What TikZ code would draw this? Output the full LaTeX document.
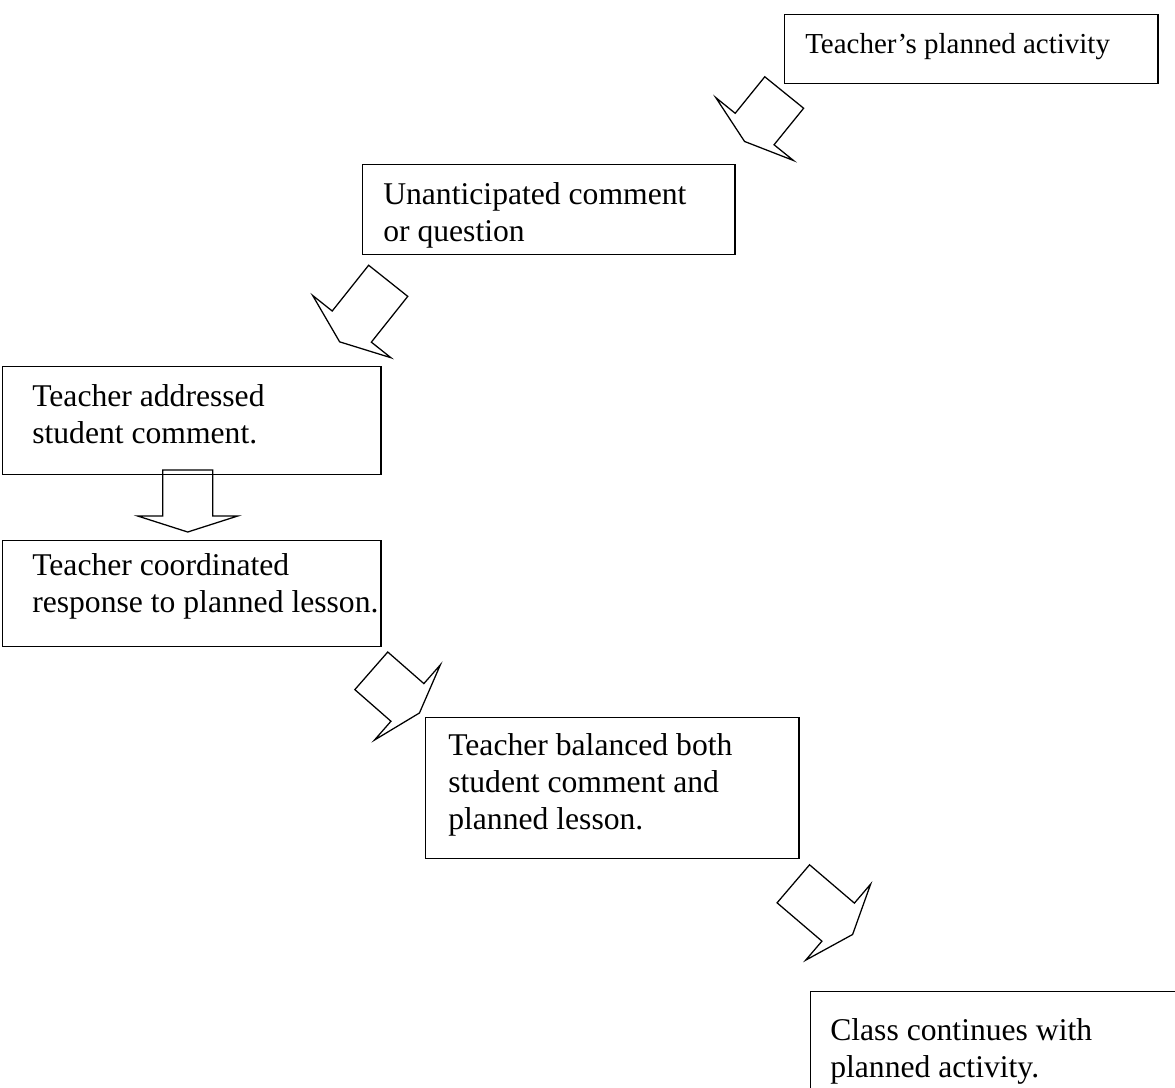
\documentclass[tikz,border=0pt]{standalone}
\usepackage{fontspec}
\setmainfont{Liberation Serif}
\tikzset{
  box/.style={draw, rectangle, line width=1pt, anchor=north west, inner sep=0pt},
  boxtext/.style={anchor=base west, align=left, inner sep=0pt, font=\fontsize{22.5}{26.3}\selectfont},
  arrowline/.style={line width=0.9pt, line join=miter},
  pics/blockarrow/.style 2 args={code={
    \draw[arrowline] (-25,0) -- (25,0) -- (25,#1) -- (50,#1) -- (0,{#1+#2}) -- (-50,#1) -- (-25,#1) -- cycle;
  }},
}
\begin{document}
\begin{tikzpicture}[x=0.025cm, y=-0.025cm]
    \useasboundingbox (0,0) rectangle (1175,1087);

    % 方框
    \node[box, minimum width=9.325cm, minimum height=1.725cm] (planned) at (784,14) {};
    \node[box, minimum width=9.3cm, minimum height=2.25cm] (unanticipated) at (362,164) {};
    \node[box, minimum width=9.45cm, minimum height=2.7cm] (addressed) at (2,366) {};
    \node[box, minimum width=9.45cm, minimum height=2.65cm] (coordinated) at (2,540) {};
    \node[box, minimum width=9.325cm, minimum height=3.525cm] (balanced) at (425,717) {};
    \node[box, minimum width=10cm, minimum height=3cm] (continues) at (810,991) {};

    % 文字 (基线取最后一行)
    \node[boxtext, font=\fontsize{20.6}{24}\selectfont] (plannedtext) at ([shift={(21,39)}]planned.north west) {Teacher’s planned activity};
    \node[boxtext] (unanticipatedtext) at ([shift={(21,77)}]unanticipated.north west) {Unanticipated comment\\or question};
    \node[boxtext] (addressedtext) at ([shift={(30,77)}]addressed.north west) {Teacher addressed\\student comment.};
    \node[boxtext] (coordinatedtext) at ([shift={(30,72)}]coordinated.north west) {Teacher coordinated\\response to planned lesson.};
    \node[boxtext] (balancedtext) at ([shift={(23,112)}]balanced.north west) {Teacher balanced both\\student comment and\\planned lesson.};
    \node[boxtext] (continuestext) at ([shift={(20,86)}]continues.north west) {Class continues with\\planned activity.};

    % 箭头
    \pic[rotate=-39] at (784.2,92.5) {blockarrow={47}{16}};
    \pic[rotate=-38.5] at (388.2,280.8) {blockarrow={58.5}{19.5}};
    \pic at (187.7,470) {blockarrow={46}{16}};
    \pic[rotate=48.8] at (371.3,670.8) {blockarrow={48}{16}};
    \pic[rotate=49.5] at (793.3,883.8) {blockarrow={59}{19}};
\end{tikzpicture}
\end{document}
